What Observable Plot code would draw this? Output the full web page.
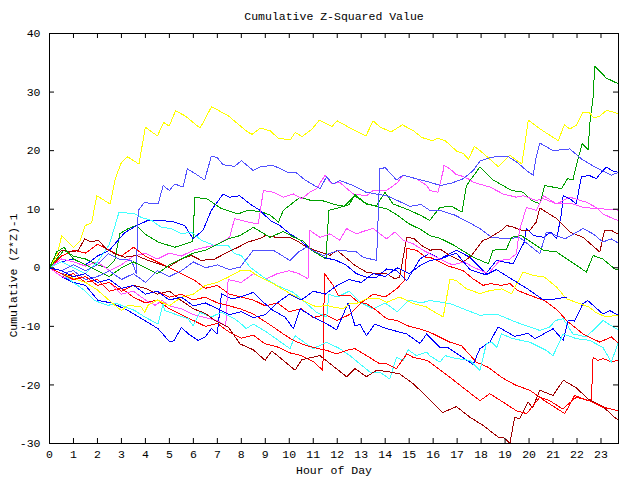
<!DOCTYPE html>
<html><head><meta charset="utf-8">
<script src="https://cdn.jsdelivr.net/npm/d3@7"></script>
<script src="https://cdn.jsdelivr.net/npm/@observablehq/plot@0.6"></script>
<style>body{margin:0;background:#fff}</style>
</head><body><div id="chart"></div>
<script>
const title = "Cumulative Z-Squared Value";
const xLabel = "Hour of Day";
const yLabel = "Cumulative (Z*Z)-1";
const hourTicks = d3.range(0, 24);
const valueTicks = [-30, -20, -10, 0, 10, 20, 30, 40];

const yellowA = [[0,0],[0.3,2],[0.51,5.5],[1,3.5],[1.28,4.6],[1.49,7.2],[1.76,7.7],[1.97,12.3],[2.53,10.9],[2.74,15.2],[3.0,18.0],[3.26,18.95],[3.73,17.7],[4.0,24.0],[4.5,22.5],[4.76,24.8],[4.99,24.2],[5.26,26.8],[5.65,25.95],[6.28,23.85],[6.76,27.5],[7.46,25.95],[7.96,24.2],[8.29,23.1],[8.45,22.8],[8.79,23.85],[9.2,23.4],[9.55,22.1],[10.04,21.85],[10.25,23.1],[10.53,22.4],[10.95,23.7],[11.25,25.2],[11.78,24.1],[11.99,25.1],[12.61,23.7],[13.2,22.5],[13.49,25.1],[13.8,24],[14.24,23.2],[14.72,24.4],[15.18,23.4],[15.53,22.25],[15.95,21.7],[16.2,22.1],[16.5,21.7],[16.99,19.9],[17.26,19.5],[17.47,18.55],[17.72,20.7],[17.96,20],[18.72,17.25],[19.2,19.2],[19.7,17.7],[19.97,25.2],[20.46,23.7],[21.22,21.7],[21.47,24.4],[21.7,23.7],[21.99,24.4],[22.24,26.5],[22.5,26.5],[22.71,25.6],[22.95,25.9],[23.24,26.9],[23.73,26.3]];
const yellowB = [[0,0],[0.5,-1],[1,-1.8],[1.5,-2.5],[2,-3.8],[2.58,-5.9],[3,-7.3],[3.28,-6.4],[3.83,-6.7],[3.97,-7.6],[4.11,-6.4],[4.5,-5.5],[5,-6.5],[5.5,-5],[6,-4.5],[6.5,-3],[7,-2.5],[7.5,-1.5],[7.95,-0.5],[8.36,-0.5],[8.78,-1.6],[9.33,-2.7],[10.03,-4.4],[10.58,-5.6],[11.14,-6.7],[11.56,-6.4],[11.83,-6.7],[12.25,-7],[12.53,-6.1],[12.8,-6.1],[13.22,-5.3],[13.78,-5.3],[14.06,-5.9],[14.6,-5],[15.17,-6.1],[15.73,-6.7],[15.95,-7.3],[16.42,-8.4],[16.7,-1.9],[16.97,-2.2],[17.39,-3.6],[17.95,-4.4],[18.36,-3.9],[18.85,-3.6],[19.27,-4.4],[19.75,-0.75],[20.17,-1.3],[20.65,-1.6],[21.15,-3.3],[21.56,-5.3],[22.1,-6.1],[22.5,-6.7],[22.78,-7.6],[23.2,-8.4],[23.64,-8.1],[23.73,-8.3]];
const greenA = [[0,0],[0.3,1.5],[0.6,3],[1,2],[1.5,1.5],[2,0.5],[2.4,0],[2.72,1.25],[2.93,5.8],[3.28,6.7],[3.63,7.2],[3.97,5.8],[4.53,4.4],[5.22,3.5],[5.7,4.1],[5.98,4.5],[6.06,12],[6.56,11.8],[7.17,10.1],[7.86,9.2],[8.28,9.8],[8.8,9.6],[9.2,9],[9.55,7.8],[9.75,9.8],[10.45,12.05],[10.9,11.5],[11.35,11.5],[11.9,10.8],[12.3,10.5],[12.74,12.3],[13.2,10.9],[13.64,10.6],[13.99,12.9],[14.33,10.9],[15.03,9.8],[15.5,8.9],[15.86,8.1],[16.28,10.3],[16.77,10.5],[17.2,9.5],[17.39,14.05],[17.95,17.2],[18.5,15],[19.27,13.2],[19.75,12.9],[20.1,11.5],[20.45,10.9],[20.65,14.05],[21.35,13.5],[21.6,15.2],[21.83,15],[22.04,18.6],[22.22,21.2],[22.46,20.2],[22.55,25.3],[22.67,29.1],[22.74,34.4],[23.22,32.4],[23.73,31.4]];
const greenB = [[0,0],[0.3,2.7],[0.6,3.5],[1,1.5],[1.5,0.5],[2,-0.5],[2.5,-1.5],[3,0],[3.5,1],[4,0],[4.5,-1],[5,0.5],[5.5,1.5],[6,2.5],[6.5,3],[7,4],[7.5,5],[7.95,5.5],[8.5,6.9],[9.2,5.2],[9.75,6.2],[10.2,5.2],[10.6,4.5],[10.93,3.0],[11.53,1.5],[11.65,9.8],[12.1,10.3],[12.5,10.8],[12.74,12.5],[13.2,11],[13.6,10.5],[14.1,10],[14.5,9],[15,7.5],[15.5,6.5],[15.86,5.5],[16.3,5],[16.8,4],[17.2,3],[17.67,1.8],[18.3,0.7],[18.5,3.0],[19.06,3.2],[19.27,5.2],[19.68,5.5],[20.6,3.0],[21.15,2.7],[22.1,0.1],[22.39,-0.75],[22.67,2.1],[23.08,1.5],[23.6,-0.3],[23.73,-0.2]];
const lightBlueA = [[0,0],[0.5,-0.5],[1,0.5],[1.5,-0.5],[2,0.5],[2.45,2.4],[2.9,1.5],[3.42,1.25],[3.62,-1.0],[3.7,9.8],[3.97,11.2],[4.3,10.9],[4.53,10.9],[4.74,14.05],[5.0,13.2],[5.22,14.3],[5.57,13.8],[5.64,15.0],[5.75,16.9],[5.99,16.3],[6.47,15],[6.75,19.05],[7.0,18.8],[7.24,17.6],[7.72,17.3],[8.0,18.3],[8.5,16.6],[8.78,17.2],[9.27,17.5],[9.6,17],[9.96,16.2],[10.3,16.2],[10.65,15.0],[11.28,13.5],[11.55,15.5],[11.83,14.3],[12.1,14.9],[12.67,14.05],[13.2,12.9],[14.06,12.3],[14.5,11.5],[15.03,10.5],[15.5,10.8],[15.86,9.8],[16.28,9.8],[16.9,9],[17.46,7.8],[17.95,6.7],[18.43,5.2],[19.12,4.95],[19.6,5.2],[20.45,2.4],[20.72,6.1],[21.15,5.5],[21.5,4.95],[22.25,6.7],[22.67,5.8],[23.08,4.4],[23.43,4.95],[23.73,4.2]];
const lightBlueB = [[0,0],[0.5,-1],[1,-0.5],[1.5,-2],[2,-1.5],[2.5,-0.5],[3,-2],[3.5,-1],[4,-2.5],[4.5,-0.5],[5,-1.5],[5.5,-0.5],[6,1],[6.5,0],[7,0.5],[7.5,-0.3],[7.95,0.1],[8.5,3],[9.33,3],[10.03,1.25],[10.38,2.7],[10.72,3.5],[11.42,2.1],[12.1,3],[12.8,2.7],[13.08,1.8],[13.64,1.25],[13.78,16.9],[14,17.1],[14.47,15],[14.75,15.8],[15.3,15.2],[15.86,14.6],[16.3,14.05],[16.8,14.5],[17.25,15.2],[17.67,16.6],[17.95,18.2],[18.43,18.9],[19.12,19],[19.54,17.9],[19.89,16.6],[20.17,15.8],[20.3,19],[20.45,21.3],[21,20],[21.7,20.3],[22.18,18.6],[22.74,17.2],[23.43,15.8],[23.73,16.3]];
const blueA = [[0,0],[0.5,1],[1,1.5],[1.5,0.5],[2,2],[2.5,3],[3.14,6.0],[3.63,7.2],[4.11,8.1],[4.67,8.1],[5.22,7.8],[5.64,7.2],[5.99,4.95],[6.4,6.4],[6.75,9.8],[7.24,12.6],[7.5,12.05],[7.93,12.3],[8.36,10.9],[8.78,9.8],[9.2,8.1],[9.61,7.2],[10.03,5.8],[10.45,4.7],[10.86,3.2],[11.42,1.8],[11.97,1.25],[12.39,0.4],[12.8,-1],[13.22,-1.6],[13.64,-1.6],[14.06,-0.2],[14.47,-0.5],[14.9,-2.2],[15.45,1.5],[15.86,2.5],[16.28,1.5],[16.97,3],[17.53,1.8],[18.2,-1],[18.64,1.25],[19.33,0.7],[19.8,4.4],[19.89,6.7],[20.2,5.5],[20.6,5.2],[20.9,6.1],[21.15,4.95],[21.35,9.2],[21.42,12.3],[21.7,11.8],[21.97,10.9],[22.18,15.5],[22.5,15.8],[22.8,15.2],[23.08,16.6],[23.22,17.2],[23.5,16.5],[23.73,16.3]];
const blueB = [[0,0],[0.5,-1.5],[1,-2.5],[1.5,-3],[2.03,-5.6],[2.6,-6],[3.28,-7.3],[3.97,-9],[4.53,-10.4],[5.02,-12.7],[5.2,-12.4],[5.5,-10.2],[5.8,-11.3],[6.2,-12.4],[6.5,-11.8],[6.75,-10.4],[7.0,-11.3],[7.17,-4.4],[7.6,-5.3],[7.95,-5],[8.5,-4.2],[8.92,-5.9],[9.33,-7.3],[9.82,-8.4],[10.17,-10.4],[10.45,-7],[11,-8.4],[11.7,-9.9],[11.97,-10.6],[12.46,-6],[12.74,-9.9],[12.95,-9.7],[13.22,-11.6],[13.57,-9.6],[14.06,-10.4],[14.9,-11.3],[15.45,-12.9],[15.73,-11.3],[16.28,-13.6],[16.6,-13.6],[17.67,-16.5],[17.95,-13.8],[18.36,-12.7],[18.71,-10.1],[19.4,-11.7],[19.96,-11.2],[20.25,-12.1],[21,-10.4],[21.42,-12.4],[21.63,-9],[21.9,-9.1],[22.25,-6.1],[22.45,-5.6],[23.08,-7.9],[23.36,-7.3],[23.73,-8.1]];
const blueC = [[0,0],[0.5,-0.5],[1,-1.5],[1.5,-1],[2,-2.5],[2.5,-2],[3,-3.5],[3.5,-3],[4,-4.5],[4.5,-4],[5,-5.5],[5.5,-5],[6,-6.5],[6.5,-6],[7,-7],[7.5,-8],[8,-7.5],[8.5,-8.5],[9,-8],[9.5,-6],[10,-4.5],[10.5,-5.5],[11,-4],[11.5,-4.5],[12,-3],[12.5,-2],[13,-2.5],[13.5,-1],[14,-1.5],[14.5,0],[15,-1],[15.5,0.5],[15.86,1.25],[16.28,1.5],[16.97,2.5],[17.53,-0.3],[18.2,-1.2],[18.64,-0.3],[19.3,-2],[19.9,-3.5],[20.6,-5.5],[21.15,-5.3],[21.56,-5]];
const magentaA = [[0,0],[0.5,1.5],[1,1],[1.5,0.3],[2,1],[2.5,-0.5],[3,0.5],[3.5,2],[4,2.5],[4.5,1.5],[5,2.5],[5.5,2],[6,3],[6.5,3.5],[7,4],[7.51,5.2],[7.72,8.4],[8.28,7.8],[8.71,7.5],[8.92,13.2],[9.33,12.9],[9.75,12.05],[10.17,12.6],[10.52,11.8],[10.86,12.9],[11.14,13.5],[11.49,15.8],[11.77,14.3],[12.1,14.6],[12.67,12.6],[13.22,12.3],[13.5,13.2],[14.06,13.2],[14.5,14.5],[14.75,15.8],[15.3,15.2],[15.73,14.05],[15.86,13.2],[16.2,12.9],[16.42,16.6],[16.45,17.5],[16.7,16.9],[16.97,15.9],[17.11,15.8],[17.46,15.2],[17.67,14.6],[18.36,13.8],[18.92,12.6],[19.47,12.05],[19.75,12.3],[20.3,11.5],[20.6,11.8],[21.15,10.9],[21.83,10.9],[22.25,10.3],[23.08,10.05],[23.73,9.85]];
const magentaB = [[0,0],[0.5,-1.5],[1,-2],[1.5,-1.5],[2,-3],[2.5,-2.5],[3,-4.5],[3.5,-4],[4,-5.5],[4.4,-6.4],[4.7,-5.6],[5,-6.5],[5.5,-7],[6,-8],[6.5,-8.5],[7,-9],[7.35,-10],[7.45,-2],[8,-2.5],[8.5,-1],[9,-2],[9.5,-1],[10,-0.5],[10.4,-1],[10.78,-1.9],[10.85,6.4],[11.28,5.2],[11.7,5.8],[12.1,4.7],[12.39,6.7],[12.8,5.8],[13.22,6.4],[13.5,6.7],[13.78,5.8],[14.06,4.95],[14.4,6.1],[14.75,4.7],[15.17,4.1],[15.58,3],[15.86,2.4],[16.28,1.5],[16.8,0.5],[17.3,1],[17.67,0.1],[18.3,-1],[18.78,1.25],[19.2,1.5],[19.47,2.4],[19.6,6.4],[19.89,10.3],[20.3,9.8],[20.6,12.3],[21.15,10.9],[21.7,12.05],[22.39,11.2],[22.8,10.3],[23.08,9.2],[23.5,8.4],[23.73,8.1]];
const cyanA = [[0,0],[0.5,1],[1,0],[1.5,-1],[2,1],[2.5,4],[2.9,9.5],[3.56,9.2],[3.83,8.6],[4.25,8.1],[4.67,6.9],[5.08,6.7],[5.5,5.8],[5.92,6.1],[6.33,4.7],[6.89,3.8],[7.45,3.8],[7.72,2.4],[8.0,2.1],[8.36,0.1],[8.92,-1.6],[9.47,-3],[10.17,-4.2],[10.72,-6.1],[11.14,-7.6],[11.56,-8.4],[11.65,-4.5],[12,-5],[12.5,-4],[13,-6],[13.5,-7],[14,-6],[14.5,-7.5],[15,-5.5],[15.5,-6],[15.86,-5.6],[16.7,-6.1],[17.25,-7],[17.95,-8.1],[18.64,-7.9],[19.47,-9.3],[20.45,-10.7],[20.86,-10.1],[21.1,-9],[21.42,-8.7],[21.83,-11.3],[22.39,-11.8],[23.08,-9],[23.64,-10.4],[23.73,-10.7]];
const cyanB = [[0,0],[0.5,-1],[1,-2.5],[1.5,-4],[1.89,-5.6],[2.2,-6.1],[2.45,-6.4],[2.8,-6.1],[3.56,-7.3],[3.97,-8.4],[4.53,-9.6],[4.74,-6.1],[4.8,-7.3],[5.22,-7.9],[5.78,-8.7],[5.99,-9.9],[6.27,-7.6],[6.75,-8.4],[7.17,-7.6],[7.72,-8.7],[8.0,-9.6],[8.2,-10.4],[8.5,-9.6],[9.06,-11],[10.03,-13.8],[10.24,-11.6],[11,-13.8],[11.56,-12.7],[12.1,-13.8],[12.53,-15],[13.36,-17.8],[13.78,-17.8],[14.19,-19],[14.47,-15.3],[14.75,-15.8],[14.96,-14],[15.3,-15],[15.73,-14.4],[15.86,-15],[16.28,-16.1],[16.5,-15],[16.97,-15.5],[17.53,-15.8],[17.95,-17.5],[18.22,-13],[18.45,-12.7],[18.65,-13.6],[18.85,-11.3],[19.33,-12.1],[20.03,-12.7],[20.72,-14.1],[21,-15],[21.42,-11.3],[21.97,-12.1],[22.53,-12.4],[23.08,-13.6],[23.43,-16.1],[23.73,-12.7]];
const darkRedA = [[0,0],[0.2,1.5],[0.5,3],[1,2.7],[1.2,3],[1.47,4.95],[1.75,4.4],[2.03,4.7],[2.38,3.2],[2.72,2.4],[3.14,1.8],[3.63,2.1],[4.11,1.25],[4.53,0.7],[4.95,0.1],[5.5,1.5],[5.92,2.1],[6.33,1.25],[6.89,1.5],[7.45,2.7],[7.86,3.5],[8.28,4.4],[8.78,5],[9.0,5.5],[9.47,5.2],[10.03,5.2],[10.4,4.4],[10.72,3.5],[11.28,2.7],[11.7,2.1],[11.98,3],[12.25,2.1],[12.74,0.4],[13.22,-0.75],[13.64,-1],[14.06,-1],[14.4,-1.9],[14.6,-1.6],[14.9,5.2],[15.2,5],[15.52,3.8],[15.86,3],[16.28,3.2],[16.7,2.1],[17.25,0.95],[17.6,2.1],[18.08,4.7],[18.3,5],[18.85,6.4],[19.06,7.2],[19.3,7],[19.68,6.4],[20.03,6.4],[20.3,7.8],[20.45,10.2],[21.15,8.4],[21.7,6.1],[22.25,5.2],[22.95,2.7],[23.15,6.4],[23.43,6.4],[23.73,5.7]];
const darkRedB = [[0,0],[0.5,-1],[1,-1.5],[1.5,-1],[2,-2.5],[2.5,-2],[3,-3.5],[3.5,-3],[4,-3.5],[4.5,-4.5],[5,-4],[5.5,-5.6],[6,-7],[6.5,-7.8],[6.9,-9],[7.45,-10.1],[7.95,-13],[8.5,-14],[8.99,-15.8],[9.27,-14.2],[9.75,-15.8],[10.24,-17.5],[10.52,-15.7],[11.28,-15],[12.39,-18.6],[12.74,-17.2],[13.22,-18.6],[13.64,-17.5],[14.06,-17.7],[14.6,-18.1],[15.17,-19.8],[15.86,-22.5],[16.4,-24.7],[16.97,-23.7],[17.53,-25.5],[18.08,-26.9],[18.71,-28.9],[18.95,-29],[19.2,-30],[19.4,-25.5],[19.6,-25.8],[19.95,-22.9],[20.15,-23.9],[20.45,-20.9],[21,-21.8],[21.43,-19.2],[21.97,-20.5],[22.46,-22.4],[23.08,-23.7],[23.64,-25.8],[23.73,-25.9]];
const redA = [[0,0],[0.5,2],[1,3],[1.5,2.5],[2,4],[2.5,3],[3,2],[3.5,3.5],[4,2],[4.5,1],[5,0],[5.5,-1],[6,-2],[6.5,-3.5],[7,-3],[7.5,-4.5],[8,-5],[8.5,-5.5],[9,-6.5],[9.5,-6],[10,-7.5],[10.5,-7],[11,-8.5],[11.5,-8],[12,-9],[12.5,-8],[13,-6],[13.5,-4.5],[14,-5],[14.5,-3.5],[14.8,-2.2],[14.9,3.3],[15.3,3],[15.7,1.8],[15.86,1.8],[16.28,1.0],[16.56,0.4],[17.25,-0.5],[17.67,-1.9],[18.08,-3],[18.4,-2.7],[18.85,-3],[19.2,-2.7],[19.54,-3.9],[20.03,-4.7],[20.65,-5.6],[21.2,-7.3],[21.56,-9],[22.25,-11.3],[22.95,-12.7],[23.43,-11.8],[23.73,-12.9]];
const redB = [[0,0],[0.5,-1.5],[1,-1],[1.5,-2.5],[2,-2],[2.5,-4],[3,-3.5],[3.5,-5],[4,-6],[4.5,-5.5],[5,-7],[5.5,-8],[6,-9],[6.5,-10],[7,-9.5],[7.5,-11],[8,-12],[8.5,-11.5],[9,-13],[9.5,-13.5],[10,-14.5],[10.5,-15],[11,-16],[11.4,-17.5],[11.47,-1],[11.83,-3],[12.04,-4.7],[12.53,-4.7],[12.88,-5.9],[13.22,-6.1],[13.64,-7.3],[14.06,-8.7],[14.5,-9],[15,-10],[15.5,-10.5],[15.86,-11],[16.7,-12.7],[17.18,-13.3],[17.8,-16.1],[18.3,-17],[18.85,-18.7],[19.47,-20.1],[20.03,-20.9],[20.65,-22.7],[21.49,-24.9],[21.9,-21.8],[22.46,-22.7],[22.6,-22.5],[22.67,-15.3],[22.87,-15.8],[23.1,-15.5],[23.43,-16.1],[23.73,-15.7]];
const redC = [[0,0],[0.5,-1],[1,-2],[1.5,-1.5],[2,-3],[2.5,-2.5],[3,-4],[3.5,-3],[4,-4.5],[4.5,-4],[5,-5],[5.5,-4.5],[6,-5.5],[6.5,-5],[7,-6],[7.5,-6.5],[7.95,-7],[8.5,-7.9],[8.92,-9],[9.33,-10.1],[9.75,-11.3],[10.17,-12.4],[10.72,-13.3],[11,-13.6],[11.56,-14.1],[11.97,-14.7],[12.39,-14.1],[12.74,-13.8],[13.22,-15],[13.78,-16.4],[14.06,-16.4],[14.47,-17.2],[14.9,-14.7],[15.17,-15.3],[15.73,-15.8],[15.86,-16.1],[16.7,-18.7],[17.95,-22.7],[18.36,-21.5],[18.9,-22.9],[19.47,-24.4],[19.9,-24.9],[20.45,-22.1],[20.86,-22.7],[21.4,-24.1],[21.97,-22.1],[22.53,-22.7],[23.08,-23.8],[23.73,-24.4]];

const series = [
  {data: redA, color: "#ff0000"},
  {data: greenA, color: "#00a000"},
  {data: blueA, color: "#0000ff"},
  {data: magentaA, color: "#ff50ff"},
  {data: cyanA, color: "#40ffff"},
  {data: darkRedA, color: "#a00000"},
  {data: yellowA, color: "#ffff00"},
  {data: lightBlueA, color: "#5050ff"},
  {data: redB, color: "#ff0000"},
  {data: greenB, color: "#00a000"},
  {data: blueB, color: "#0000ff"},
  {data: magentaB, color: "#ff50ff"},
  {data: cyanB, color: "#40ffff"},
  {data: darkRedB, color: "#a00000"},
  {data: yellowB, color: "#ffff00"},
  {data: lightBlueB, color: "#5050ff"},
  {data: redC, color: "#ff0000"},
  {data: blueC, color: "#0000ff"}
];

const W = 640, H = 480, mL = 49, mR = 22, mT = 33, mB = 37;
const plotW = W - mL - mR, plotH = H - mT - mB, tickLen = 5;
const font = "'Liberation Mono', 'DejaVu Sans Mono', monospace";

const chart = Plot.plot({
  width: W, height: H,
  marginLeft: mL, marginRight: mR, marginTop: mT, marginBottom: mB,
  style: {fontFamily: font, fontSize: "11.5px", background: "#fff", color: "#000"},
  x: {domain: [0, 23.73]},
  y: {domain: [-30, 40]},
  marks: [
    ...series.map(s => Plot.line(s.data, {x: d => d[0], y: d => d[1], stroke: s.color, strokeWidth: 1, shapeRendering: "crispEdges"})),
    Plot.tickX(hourTicks, {x: d => d, insetTop: plotH - tickLen, stroke: "#000"}),
    Plot.tickX(hourTicks, {x: d => d, insetBottom: plotH - tickLen, stroke: "#000"}),
    Plot.tickY(valueTicks, {y: d => d, insetRight: plotW - tickLen, stroke: "#000"}),
    Plot.tickY(valueTicks, {y: d => d, insetLeft: plotW - tickLen, stroke: "#000"}),
    Plot.frame({stroke: "#000"}),
    Plot.axisX({ticks: hourTicks, tickSize: 0, tickPadding: 6, tickFormat: d => String(d), label: null}),
    Plot.axisY({ticks: valueTicks, tickSize: 0, tickPadding: 9, tickFormat: d => String(d), label: null}),
    Plot.text([title], {frameAnchor: "top", dy: -17, lineAnchor: "middle", textAnchor: "middle", text: d => d}),
    Plot.text([xLabel], {frameAnchor: "bottom", dy: 27, lineAnchor: "middle", textAnchor: "middle", text: d => d}),
    Plot.text([yLabel], {frameAnchor: "left", dx: -36, dy: 37, rotate: -90, lineAnchor: "middle", textAnchor: "middle", text: d => d})
  ]
});
document.getElementById("chart").append(chart);
</script></body></html>
